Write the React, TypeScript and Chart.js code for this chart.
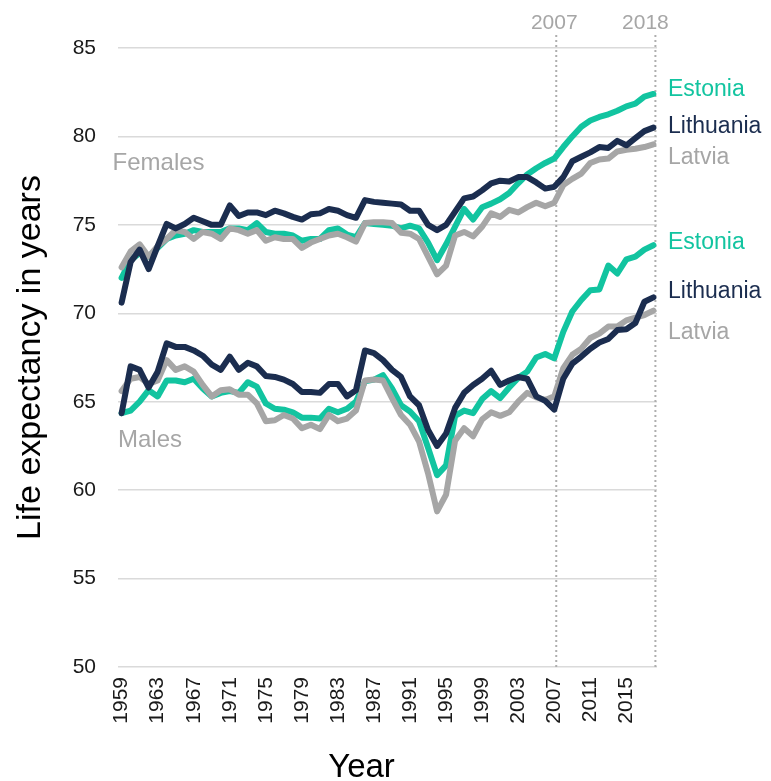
import React, { useEffect, useRef } from "react";
import { Chart, registerables } from "chart.js";

Chart.register(...registerables);

const years = [
  1959, 1960, 1961, 1962, 1963, 1964, 1965, 1966, 1967, 1968,
  1969, 1970, 1971, 1972, 1973, 1974, 1975, 1976, 1977, 1978,
  1979, 1980, 1981, 1982, 1983, 1984, 1985, 1986, 1987, 1988,
  1989, 1990, 1991, 1992, 1993, 1994, 1995, 1996, 1997, 1998,
  1999, 2000, 2001, 2002, 2003, 2004, 2005, 2006, 2007, 2008,
  2009, 2010, 2011, 2012, 2013, 2014, 2015, 2016, 2017, 2018,
];

const tickYears = [1959, 1963, 1967, 1971, 1975, 1979, 1983, 1987, 1991, 1995, 1999, 2003, 2007, 2011, 2015];
const yTicks = [50, 55, 60, 65, 70, 75, 80, 85];
const markerYears = [2007, 2018];

const femalesEstonia = [
  72.0, 73.0, 73.4, 73.2, 73.7, 74.2, 74.4, 74.5, 74.7, 74.6,
  74.6, 74.6, 74.8, 74.8, 74.7, 75.1, 74.6, 74.5, 74.5, 74.4,
  74.1, 74.2, 74.2, 74.7, 74.8, 74.45, 74.3, 75.1, 75.05, 75.0,
  74.95, 74.8, 74.95, 74.8, 74.0, 73.0, 73.9, 74.9, 75.9, 75.3,
  76.0, 76.2, 76.45, 76.8, 77.35, 77.85, 78.2, 78.5, 78.75, 79.4,
  80.0, 80.55, 80.9, 81.1, 81.25, 81.45, 81.7, 81.85, 82.25, 82.4,
];
const femalesLithuania = [
  70.6, 72.9, 73.6, 72.5, 73.8, 75.05, 74.8, 75.05, 75.4, 75.2,
  75.0, 75.0, 76.1, 75.5, 75.7, 75.7, 75.55, 75.8, 75.65, 75.45,
  75.3, 75.6, 75.65, 75.9, 75.8, 75.55, 75.4, 76.4, 76.3, 76.25,
  76.2, 76.15, 75.8, 75.8, 75.0, 74.7, 75.0, 75.75, 76.5, 76.6,
  76.95, 77.35, 77.5, 77.45, 77.7, 77.7, 77.4, 77.05, 77.15, 77.7,
  78.6, 78.85, 79.1, 79.4, 79.35, 79.75, 79.5, 79.9, 80.3, 80.5,
];
const femalesLatvia = [
  72.6, 73.5, 73.9, 73.2, 73.8, 74.2, 74.7, 74.6, 74.2, 74.6,
  74.5, 74.2, 74.8, 74.7, 74.5, 74.7, 74.1, 74.3, 74.2, 74.2,
  73.7, 74.0, 74.2, 74.4, 74.5, 74.3, 74.05, 75.1, 75.15, 75.15,
  75.1, 74.55, 74.5, 74.2, 73.2, 72.2, 72.7, 74.4, 74.6, 74.35,
  74.9, 75.65, 75.45, 75.85, 75.7, 76.0, 76.25, 76.05, 76.25, 77.25,
  77.6, 77.9, 78.5, 78.7, 78.75, 79.15, 79.25, 79.3, 79.4, 79.55,
];
const malesEstonia = [
  64.35, 64.5, 65.0, 65.65, 65.3, 66.2, 66.2, 66.1, 66.3, 65.75,
  65.3, 65.5, 65.6, 65.5, 66.1, 65.85, 64.9, 64.6, 64.55, 64.4,
  64.1, 64.1, 64.05, 64.6, 64.4, 64.6, 65.0, 66.15, 66.25, 66.5,
  65.75, 64.8, 64.45, 63.9, 62.4, 60.85, 61.4, 64.2, 64.5, 64.35,
  65.15, 65.6, 65.2, 65.8, 66.35, 66.7, 67.5, 67.7, 67.45, 68.95,
  70.1, 70.75, 71.3, 71.35, 72.7, 72.25, 73.05, 73.2, 73.6, 73.85,
];
const malesLithuania = [
  64.35, 67.0, 66.8, 65.8, 66.7, 68.3, 68.1, 68.1, 67.9, 67.6,
  67.1, 66.8, 67.55, 66.8, 67.2, 67.0, 66.45, 66.4, 66.25, 66.0,
  65.55, 65.55, 65.5, 66.0, 66.0, 65.3, 65.65, 67.9, 67.75, 67.35,
  66.8, 66.4, 65.3, 64.8, 63.4, 62.5, 63.2, 64.65, 65.5, 65.95,
  66.3, 66.75, 65.95, 66.2, 66.4, 66.3, 65.3, 65.05, 64.55, 66.3,
  67.15, 67.55, 68.0, 68.35, 68.55, 69.05, 69.1, 69.45, 70.65, 70.9,
];
const malesLatvia = [
  65.6, 66.3, 66.4, 66.0, 66.2, 67.35, 66.8, 67.0, 66.7, 65.95,
  65.3, 65.65, 65.7, 65.4, 65.4, 64.9, 63.9, 63.95, 64.25, 64.05,
  63.5, 63.7, 63.45, 64.25, 63.9, 64.05, 64.5, 66.2, 66.25, 66.2,
  65.2, 64.25, 63.7, 62.75, 60.95, 58.8, 59.75, 62.8, 63.5, 63.05,
  64.0, 64.4, 64.2, 64.4, 65.0, 65.5, 65.25, 65.1, 65.3, 66.9,
  67.65, 68.0, 68.6, 68.85, 69.25, 69.25, 69.6, 69.75, 69.9, 70.15,
];

const countries = ["Lithuania", "Latvia", "Estonia"];
const colors: Record<string, string> = {
  Estonia: "#12C4A0",
  Lithuania: "#1B2D4F",
  Latvia: "#A6A6A6",
};
// label anchor values (in years of life expectancy) for the right-hand labels
const femaleLabelValues: Record<string, number> = { Estonia: 82.62, Lithuania: 80.58, Latvia: 78.8 };
const maleLabelValues: Record<string, number> = { Estonia: 73.97, Lithuania: 71.2, Latvia: 68.88 };
const groupLabels = [
  { text: "Females", year: 1958.0, value: 78.5 },
  { text: "Males", year: 1958.6, value: 62.83 },
];

const FONT = "'Liberation Sans', Arial, Helvetica, sans-serif";

const toPoints = (vals: number[]) => years.map((yr, i) => ({ x: yr, y: vals[i] }));

export default function App() {
  const canvasRef = useRef<HTMLCanvasElement | null>(null);

  useEffect(() => {
    document.body.style.margin = "0";
    const canvas = canvasRef.current;
    if (!canvas) return;

    const series: Record<string, { f: number[]; m: number[] }> = {
      Estonia: { f: femalesEstonia, m: malesEstonia },
      Lithuania: { f: femalesLithuania, m: malesLithuania },
      Latvia: { f: femalesLatvia, m: malesLatvia },
    };

    const datasets: any[] = [];
    countries.forEach((c) => {
      datasets.push({
        label: c + " females",
        data: toPoints(series[c].f),
        borderColor: colors[c],
        backgroundColor: colors[c],
      });
      datasets.push({
        label: c + " males",
        data: toPoints(series[c].m),
        borderColor: colors[c],
        backgroundColor: colors[c],
      });
    });
    datasets.forEach((d) => {
      d.borderWidth = 6;
      d.pointRadius = 0;
      d.tension = 0;
      d.borderCapStyle = "round";
      d.borderJoinStyle = "round";
      d.fill = false;
    });

    const annot = {
      id: "annot",
      beforeDatasetsDraw(chart: any) {
        const { ctx, chartArea, scales } = chart;
        const x = scales.x;
        ctx.save();
        ctx.strokeStyle = "#AEAEAE";
        ctx.lineWidth = 2;
        ctx.setLineDash([2, 3]);
        markerYears.forEach((yr) => {
          const px = Math.min(x.getPixelForValue(yr) + 2, chartArea.right);
          ctx.beginPath();
          ctx.moveTo(px, 35);
          ctx.lineTo(px, chartArea.bottom);
          ctx.stroke();
        });
        ctx.restore();
      },
      afterDraw(chart: any) {
        const { ctx, chartArea, scales } = chart;
        const x = scales.x;
        const y = scales.y;
        ctx.save();
        // marker labels
        ctx.fillStyle = "#A6A6A6";
        ctx.font = `21px ${FONT}`;
        ctx.textAlign = "center";
        ctx.textBaseline = "middle";
        markerYears.forEach((yr, i) => {
          const px = Math.min(x.getPixelForValue(yr) + 2, chartArea.right);
          ctx.fillText(String(yr), px - (i === markerYears.length - 1 ? 10 : 2), 23);
        });
        // right labels
        ctx.font = `23px ${FONT}`;
        ctx.textAlign = "left";
        countries.forEach((c) => {
          ctx.fillStyle = colors[c];
          ctx.fillText(c, chartArea.right + 11, y.getPixelForValue(femaleLabelValues[c]));
          ctx.fillText(c, chartArea.right + 11, y.getPixelForValue(maleLabelValues[c]));
        });
        // group labels
        ctx.fillStyle = "#A6A6A6";
        ctx.font = `24px ${FONT}`;
        groupLabels.forEach((g) => {
          ctx.fillText(g.text, x.getPixelForValue(g.year), y.getPixelForValue(g.value));
        });
        // x title
        ctx.fillStyle = "#000000";
        ctx.font = `33px ${FONT}`;
        ctx.textAlign = "center";
        ctx.fillText("Year", (chartArea.left + chartArea.right) / 2 - 26, 768);
        ctx.restore();
      },
    };

    const chart = new Chart(canvas, {
      type: "line",
      data: { datasets },
      options: {
        animation: false,
        responsive: false,
        layout: { padding: { top: 48, right: 114, bottom: 0, left: 0 } },
        plugins: { legend: { display: false }, tooltip: { enabled: false } },
        scales: {
          x: {
            type: "linear",
            min: 1958.6,
            max: 2018.4,
            grid: { display: false, drawTicks: false },
            border: { display: false },
            afterBuildTicks: (axis: any) => {
              axis.ticks = tickYears.map((v) => ({ value: v }));
            },
            afterFit: (scale: any) => {
              scale.height = 114;
            },
            ticks: {
              autoSkip: false,
              minRotation: 90,
              maxRotation: 90,
              padding: 10,
              color: "#1a1a1a",
              font: { family: FONT, size: 21 },
              callback: (v: any) => String(v),
            },
          },
          y: {
            type: "linear",
            min: 50,
            max: 85,
            afterBuildTicks: (axis: any) => {
              axis.ticks = yTicks.map((v) => ({ value: v }));
            },
            afterFit: (scale: any) => {
              scale.width = 118;
            },
            grid: { color: "#DADADA", lineWidth: 1.5, drawTicks: false },
            border: { display: false },
            ticks: {
              padding: 22,
              color: "#1a1a1a",
              font: { family: FONT, size: 21 },
            },
            title: {
              display: true,
              text: "Life expectancy in years",
              color: "#000000",
              font: { family: FONT, size: 34 },
              padding: { top: 10, bottom: 0 },
            },
          },
        },
      },
      plugins: [annot],
    });

    return () => chart.destroy();
  }, []);

  return (
    <div style={{ width: 771, height: 781 }}>
      <canvas ref={canvasRef} width={771} height={781} />
    </div>
  );
}
